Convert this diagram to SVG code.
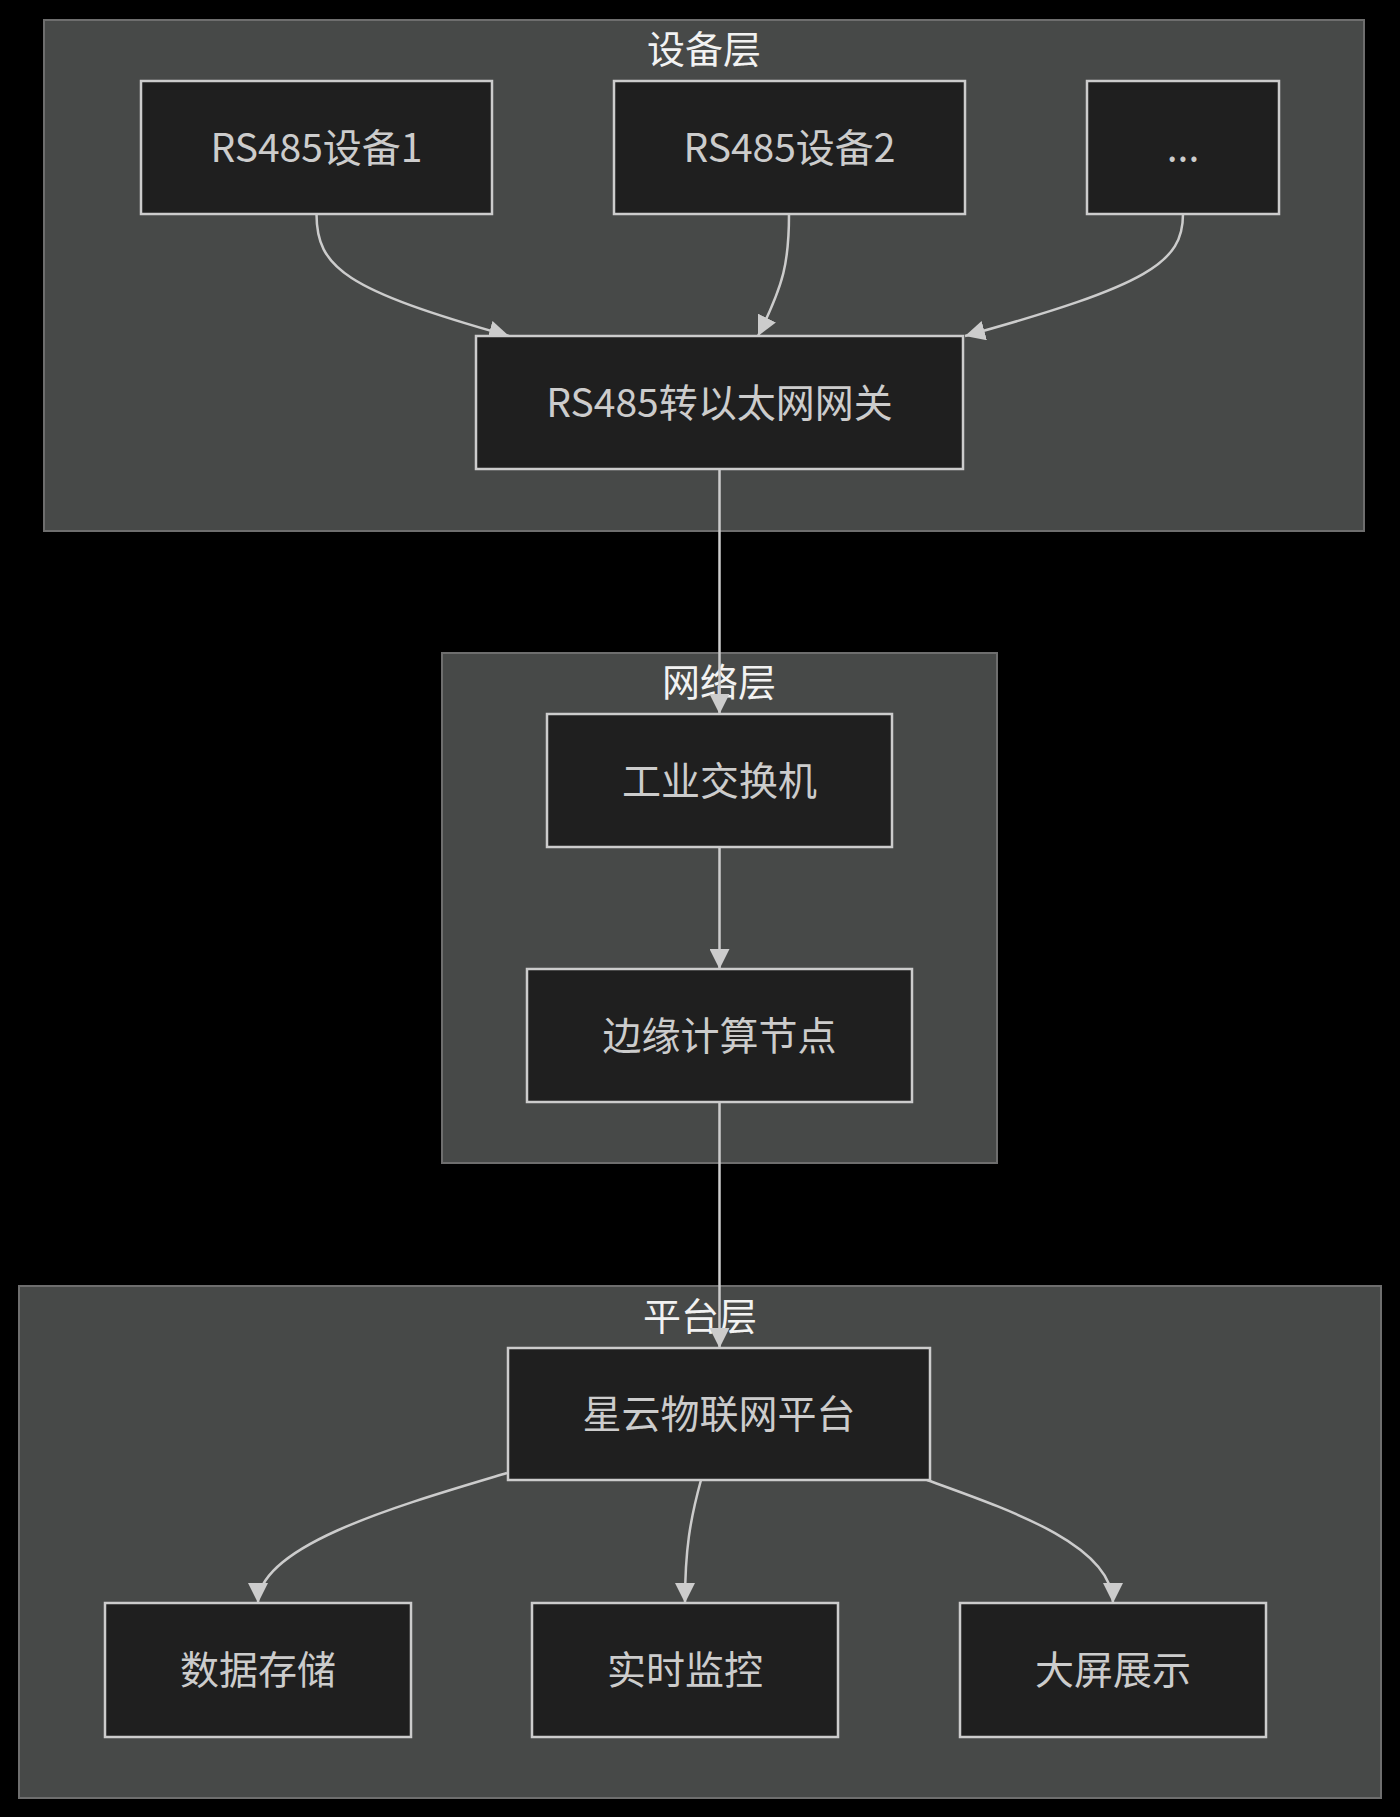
<svg xmlns="http://www.w3.org/2000/svg" width="1400" height="1817" viewBox="0 0 1400 1817">
<defs>
<style>
.cluster rect{fill:#474948;stroke:#6e6e6e;stroke-width:2}
.cluster text{fill:#f2f2f2;font-family:"Noto Sans CJK SC","Noto Sans",sans-serif;font-size:38px;text-anchor:middle;dominant-baseline:central}
.node rect{fill:#1f1f1f;stroke:#cccccc;stroke-width:2.5}
.node text{fill:#cccccc;font-family:"Noto Sans CJK SC","Noto Sans",sans-serif;font-size:39px;text-anchor:middle;dominant-baseline:central}
.edges path{fill:none;stroke:#cccccc;stroke-width:2.5;marker-end:url(#arrow)}
</style>
<marker id="arrow" viewBox="0 0 10 10" refX="10" refY="5" markerUnits="userSpaceOnUse" markerWidth="20" markerHeight="20" orient="auto">
<path d="M0,0 L10,5 L0,10 z" fill="#cccccc"/>
</marker>
</defs>
<rect x="0" y="0" width="1400" height="1817" fill="#000000"/>

<g id="cluster-device" class="cluster">
<rect x="44" y="20" width="1320" height="511"/>
<text x="704" y="46">设备层</text>
</g>
<g id="cluster-network" class="cluster">
<rect x="442" y="653" width="555" height="510"/>
<text x="719" y="679">网络层</text>
</g>
<g id="cluster-platform" class="cluster">
<rect x="19" y="1286" width="1362" height="512"/>
<text x="700" y="1313">平台层</text>
</g>

<g id="edges" class="edges">
<path d="M316.5,214 C316.5,268 346,290 509,336"/>
<path d="M789,214 C789,262 784,284 758,336"/>
<path d="M1183,214 C1183,262 1150,285 965,336"/>
<path d="M719.5,469 L719.5,714"/>
<path d="M719.5,847 L719.5,969"/>
<path d="M719.5,1102 L719.5,1348"/>
<path d="M507,1473 C400,1505 258,1545 258,1603"/>
<path d="M701,1480 C690,1520 685,1550 685,1603"/>
<path d="M927,1480 C1010,1510 1113,1545 1113,1603"/>
</g>

<g id="node-rs485-1" class="node">
<rect x="141" y="81" width="351" height="133"/>
<text x="316.5" y="145">RS485设备1</text>
</g>
<g id="node-rs485-2" class="node">
<rect x="614" y="81" width="351" height="133"/>
<text x="789.5" y="145">RS485设备2</text>
</g>
<g id="node-more" class="node">
<rect x="1087" y="81" width="192" height="133"/>
<text x="1183" y="145">...</text>
</g>
<g id="node-gateway" class="node">
<rect x="476" y="336" width="487" height="133"/>
<text x="719.5" y="400">RS485转以太网网关</text>
</g>
<g id="node-switch" class="node">
<rect x="547" y="714" width="345" height="133"/>
<text x="719.5" y="778">工业交换机</text>
</g>
<g id="node-edge" class="node">
<rect x="527" y="969" width="385" height="133"/>
<text x="719.5" y="1033">边缘计算节点</text>
</g>
<g id="node-platform" class="node">
<rect x="508" y="1348" width="422" height="132"/>
<text x="719" y="1411">星云物联网平台</text>
</g>
<g id="node-storage" class="node">
<rect x="105" y="1603" width="306" height="134"/>
<text x="258" y="1667">数据存储</text>
</g>
<g id="node-monitor" class="node">
<rect x="532" y="1603" width="306" height="134"/>
<text x="685" y="1667">实时监控</text>
</g>
<g id="node-screen" class="node">
<rect x="960" y="1603" width="306" height="134"/>
<text x="1113" y="1667">大屏展示</text>
</g>
</svg>
